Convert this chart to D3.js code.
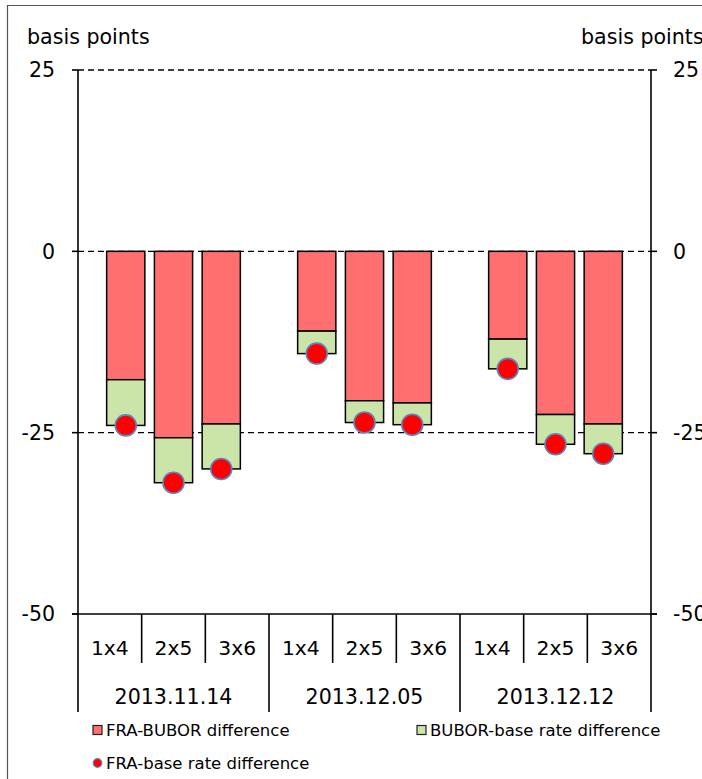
<!DOCTYPE html>
<html>
<head>
<meta charset="utf-8">
<script src="https://cdn.jsdelivr.net/npm/d3@7"></script>
<style>
  html, body { margin: 0; padding: 0; background: #fff; overflow: hidden; }
  svg { display: block; font-family: Tahoma, "DejaVu Sans", sans-serif; }
</style>
</head>
<body>
<svg id="chart"></svg>
<script>
// Data
const DATES = ['2013.11.14', '2013.12.05', '2013.12.12'];
const TENORS = ['1x4', '2x5', '3x6'];
const FRA_BUBOR = [-17.7, -25.7, -23.8, -11.0, -20.6, -20.9, -12.1, -22.5, -23.8];
const BUBOR_BASE = [-6.3, -6.2, -6.2, -3.1, -3.0, -3.0, -4.1, -4.1, -4.1];
const FRA_BASE = [-24.0, -31.9, -30.0, -14.1, -23.6, -23.9, -16.2, -26.6, -27.9];
const Y_TICKS = [25, 0, -25, -50];
const SERIES = ['FRA-BUBOR difference', 'BUBOR-base rate difference', 'FRA-base rate difference'];

const RED = '#ff6f6f';
const GREEN = '#cbe5a9';

const width = 702, height = 779;
const plot = {left: 78, right: 651, top: 70, bottom: 614};

const svg = d3.select('#chart').attr('width', width).attr('height', height);

// outer frame (runs off the right and bottom edges)
svg.append('path')
  .attr('d', `M${width + 10},5.5H7.5V${height + 10}`)
  .attr('fill', 'none').attr('stroke', '#555').attr('stroke-width', 1.2);

// category keys, bar slots (with a gap between date groups)
const keys = [];
const slots = [];
DATES.forEach((d, gi) => {
  TENORS.forEach(t => { keys.push(d + '|' + t); slots.push(d + '|' + t); });
  if (gi < DATES.length - 1) slots.push('gap' + gi);
});

const y = d3.scaleLinear().domain([-50, 25]).range([plot.bottom, plot.top]);
const half = (plot.right - plot.left) / 24;
const xBar = d3.scaleBand().domain(slots)
  .range([plot.left + half, plot.right - half]).paddingInner(0.2).paddingOuter(0.1);
const xCat = d3.scaleBand().domain(keys).range([plot.left, plot.right]);
const xDate = d3.scaleBand().domain(DATES).range([plot.left, plot.right]);

// gridlines
svg.append('g').selectAll('line')
  .data(Y_TICKS.filter(v => v > -50)).enter()
  .append('line')
  .attr('x1', plot.left).attr('x2', plot.right)
  .attr('y1', d => y(d)).attr('y2', d => y(d))
  .attr('stroke', '#000').attr('stroke-width', 1.3)
  .attr('stroke-dasharray', '6,4');

// bars
const rows = keys.map((k, i) => ({key: k, a: FRA_BUBOR[i], b: BUBOR_BASE[i], c: FRA_BASE[i]}));
const bw = xBar.bandwidth();

const bars = svg.append('g');
bars.selectAll('rect.red').data(rows).enter()
  .append('rect').attr('class', 'red')
  .attr('x', d => xBar(d.key)).attr('width', bw)
  .attr('y', y(0)).attr('height', d => y(d.a) - y(0))
  .attr('fill', RED).attr('stroke', '#000').attr('stroke-width', 1.5);
bars.selectAll('rect.green').data(rows).enter()
  .append('rect').attr('class', 'green')
  .attr('x', d => xBar(d.key)).attr('width', bw)
  .attr('y', d => y(d.a)).attr('height', d => y(d.a + d.b) - y(d.a))
  .attr('fill', GREEN).attr('stroke', '#000').attr('stroke-width', 1.5);

// dots
svg.append('g').selectAll('circle').data(rows).enter()
  .append('circle')
  .attr('cx', d => xBar(d.key) + bw / 2)
  .attr('cy', d => y(d.c))
  .attr('r', 10.5)
  .attr('fill', '#ff0000').attr('stroke', '#5b86c0').attr('stroke-width', 1.6);

// axes lines
const axisBottom = 712;
const axes = svg.append('g').attr('stroke', '#000').attr('stroke-width', 1.6);
axes.append('line').attr('x1', plot.left).attr('x2', plot.left).attr('y1', plot.top).attr('y2', axisBottom);
axes.append('line').attr('x1', plot.right).attr('x2', plot.right).attr('y1', plot.top).attr('y2', axisBottom);
axes.append('line').attr('x1', plot.left - 6).attr('x2', plot.right + 6).attr('y1', y(-50)).attr('y2', y(-50));
axes.selectAll('line.tl').data(Y_TICKS).enter().append('line')
  .attr('x1', plot.left - 6).attr('x2', plot.left).attr('y1', d => y(d)).attr('y2', d => y(d));
axes.selectAll('line.tr').data(Y_TICKS).enter().append('line')
  .attr('x1', plot.right).attr('x2', plot.right + 6).attr('y1', d => y(d)).attr('y2', d => y(d));
// category dividers
axes.selectAll('line.cat').data(keys.slice(1)).enter().append('line')
  .attr('x1', d => xCat(d)).attr('x2', d => xCat(d))
  .attr('y1', plot.bottom).attr('y2', d => TENORS.indexOf(d.split('|')[1]) === 0 ? axisBottom : 663);

// y tick labels
svg.append('g').selectAll('text').data(Y_TICKS).enter()
  .append('text')
  .attr('x', 55).attr('y', d => y(d)).attr('dy', '0.35em')
  .attr('text-anchor', 'end').attr('font-size', 20.5)
  .text(d => d);
svg.append('g').selectAll('text').data(Y_TICKS).enter()
  .append('text')
  .attr('x', 673).attr('y', d => y(d)).attr('dy', '0.35em')
  .attr('font-size', 20.5)
  .text(d => d);

// axis titles
svg.append('text').attr('x', 27).attr('y', 44).attr('font-size', 20.6).text('basis points');
svg.append('text').attr('x', 581).attr('y', 44).attr('font-size', 20.6).text('basis points');

// category labels
svg.append('g').selectAll('text').data(keys).enter()
  .append('text')
  .attr('x', d => xCat(d) + xCat.bandwidth() / 2).attr('y', 648).attr('dy', '0.35em')
  .attr('text-anchor', 'middle').attr('font-size', 20.3)
  .text(d => d.split('|')[1]);
svg.append('g').selectAll('text').data(DATES).enter()
  .append('text')
  .attr('x', d => xDate(d) + xDate.bandwidth() / 2).attr('y', 697).attr('dy', '0.35em')
  .attr('text-anchor', 'middle').attr('font-size', 20.6)
  .text(d => d);

// legend
const legend = svg.append('g').attr('font-size', 16.5);
const legendPos = [[93, 730], [417, 730], [93, 763]];
SERIES.forEach((s, i) => {
  const [lx, ly] = legendPos[i];
  if (i < 2) {
    legend.append('rect').attr('x', lx).attr('y', ly - 4.5).attr('width', 9).attr('height', 9)
      .attr('fill', i === 0 ? RED : GREEN).attr('stroke', '#222').attr('stroke-width', 1.2);
  } else {
    legend.append('circle').attr('cx', lx + 4.5).attr('cy', ly).attr('r', 4.3)
      .attr('fill', '#ff0000').attr('stroke', '#5b86c0').attr('stroke-width', 1.2);
  }
  legend.append('text').attr('x', lx + 13).attr('y', ly).attr('dy', '0.35em').text(s);
});
</script>
</body>
</html>
